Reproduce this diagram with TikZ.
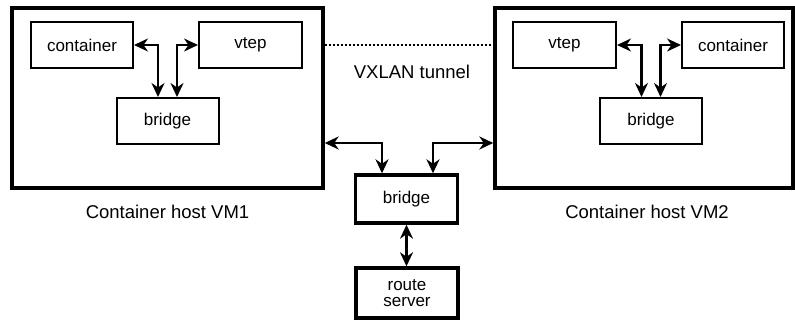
\documentclass[tikz,border=0pt]{standalone}
\usepackage{fontspec}
\setmainfont{Liberation Sans}
\usetikzlibrary{arrows.meta}
\begin{document}
\begin{tikzpicture}[x=1pt,y=-1pt,
  thinbox/.style={draw, line width=2pt, minimum height=46pt, minimum width=102pt,
    inner sep=0pt, font=\fontsize{17}{18}\selectfont},
  hostbox/.style={draw, line width=3.4pt, minimum width=#1, minimum height=180pt, inner sep=0pt},
  hubbox/.style={draw, line width=3.4pt, minimum width=102pt, inner sep=0pt,
    align=center, font=\fontsize{17}{19}\selectfont},
  label/.style={font=\fontsize{18.5}{20}\selectfont, inner sep=0pt},
  link/.style={line width=2.2pt, {Stealth[length=14pt,width=13pt,inset=4.5pt]}-{Stealth[length=14pt,width=13pt,inset=4.5pt]}},
  tunnel/.style={line width=1.8pt, dash pattern=on 2pt off 2pt}
]
\useasboundingbox (0,0) rectangle (795,320);

% host VM1 and its parts
\node[hostbox=311pt] (vm1) at (167.5,98) {};
\node[thinbox] (ct1) at (82,45) {container};
\node[thinbox, minimum width=103pt] (vt1) at (250.5,45) {vtep};
\node[thinbox] (br1) at (167.5,121) {bridge};

% host VM2 and its parts
\node[hostbox=298pt] (vm2) at (644,98) {};
\node[thinbox, minimum width=103pt] (vt2) at (564.5,45) {vtep};
\node[thinbox] (ct2) at (733,45) {container};
\node[thinbox] (br2) at (651,121) {bridge};

% shared bridge and route server
\node[hubbox, minimum height=48pt] (brc) at (406.5,199) {bridge};
\node[hubbox, minimum height=50pt] (rs) at (407,293) {route\\[-3pt]server};

% labels
\node[label] (lvm1) at (167.5,212) {Container host VM1};
\node[label] (lvm2) at (647,212) {Container host VM2};
\node[label] (lvx) at (412,72) {VXLAN tunnel};

% links inside VM1
\draw[link] (ct1.east) -| ([xshift=-9.5pt]br1.north);
\draw[link] (vt1.west) -| ([xshift=9.5pt]br1.north);

% links inside VM2
\draw[link] (vt2.east) -| ([xshift=-9.5pt]br2.north);
\draw[link] (ct2.west) -| ([xshift=9.5pt]br2.north);

% VXLAN tunnel between the hosts
\draw[tunnel] (vm1.east |- vt1.east) -- (vm2.west |- vt2.west);

% hosts to the shared bridge
\draw[link] ([yshift=-45pt]vm1.east) -| ([xshift=-24.5pt]brc.north);
\draw[link] ([yshift=-45pt]vm2.west) -| ([xshift=26.5pt]brc.north);

% shared bridge to route server
\draw[link] (brc.south) -- (brc.south |- rs.north);
\end{tikzpicture}
\end{document}
